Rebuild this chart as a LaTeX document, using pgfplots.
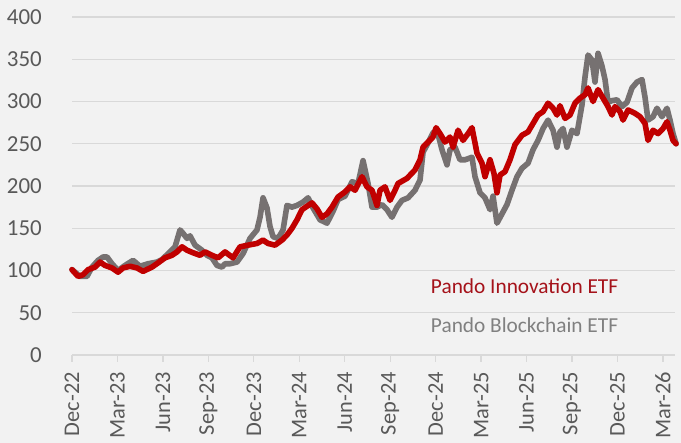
\documentclass[border=0pt]{standalone}
\usepackage{pgfplots}
\pgfplotsset{compat=1.18}
\usepackage{fontspec}
\setmainfont{Carlito}
\definecolor{bgc}{HTML}{F2F2F2}
\definecolor{gridc}{HTML}{D9D9D9}
\definecolor{redline}{HTML}{C00000}
\definecolor{grayline}{HTML}{767171}
\definecolor{redtext}{HTML}{A5121A}
\definecolor{graytext}{HTML}{808080}
\definecolor{ticktext}{HTML}{595959}
\begin{document}
\begin{tikzpicture}[x=1bp,y=1bp]
\fill[bgc] (0,0) rectangle (681,443);
\begin{axis}[
  at={(72bp,88bp)}, anchor=south west,
  scale only axis,
  width=603bp, height=338bp,
  xmin=0, xmax=39.8, ymin=0, ymax=400,
  axis line style={draw=none},
  axis x line*=bottom,
  ytick={0,50,...,400},
  ymajorgrids,
  grid style={gridc, line width=1.3bp},
  xtick={0,3,...,39},
  xticklabels={Dec-22,Mar-23,Jun-23,Sep-23,Dec-23,Mar-24,Jun-24,Sep-24,Dec-24,Mar-25,Jun-25,Sep-25,Dec-25,Mar-26},
  x tick label style={rotate=90, anchor=east, font=\fontsize{22.5}{24}\selectfont, text=ticktext, inner sep=0pt, xshift=0bp},
  y tick label style={font=\fontsize{23}{24}\selectfont, text=ticktext, inner sep=0pt},
  xticklabel shift=10bp,
  yticklabel shift=23bp,
  major tick length=7bp,
  tick align=outside,
  x tick style={gridc, line width=1.3bp},
  ytick style={draw=none},
  /pgf/number format/assume math mode=true,
  clip=false,
]
\addplot[draw=none, forget plot] coordinates {(0,0)};
\draw[gridc, line width=1.3bp] (axis cs:0,0) -- (axis cs:39.8,0);
\addplot[grayline, line width=5.6bp, line join=round, line cap=round] coordinates {
(0,101)(0.53,93)(0.99,93)(1.32,104)(1.72,112)(2.05,116)(2.31,116)(2.64,108)(3.04,100)(3.50,106)
(4.03,112)(4.49,105)(5.02,108)(5.61,110)(5.94,113)(6.47,122)(6.80,128)(7.13,148)(7.33,144)(7.59,138)
(7.79,141)(8.12,130)(8.58,124)(8.91,118)(9.24,115)(9.57,106)(9.90,104)(10.10,108)(10.43,108)(10.89,110)
(11.29,120)(11.75,138)(12.21,148)(12.41,163)(12.61,186)(12.87,174)(13.07,152)(13.27,140)(13.60,138)(13.93,148)
(14.19,177)(14.52,175)(14.85,177)(15.25,181)(15.58,186)(15.91,174)(16.37,160)(16.83,156)(17.23,170)(17.56,184)
(18.02,188)(18.48,205)(18.88,203)(19.21,230)(19.54,203)(19.80,175)(20.13,175)(20.46,178)(20.79,172)(21.12,163)
(21.45,175)(21.78,183)(22.18,186)(22.64,195)(22.97,207)(23.17,240)(23.50,251)(23.83,263)(24.09,266)(24.42,243)
(24.75,225)(24.95,243)(25.28,246)(25.61,231)(25.94,231)(26.40,234)(26.60,211)(26.93,192)(27.26,186)(27.59,172)
(27.79,188)(28.05,156)(28.38,167)(28.71,178)(29.04,195)(29.37,211)(29.70,221)(30.10,227)(30.43,243)(30.76,254)
(31.09,268)(31.42,278)(31.75,266)(32.01,246)(32.21,264)(32.41,268)(32.67,246)(33.00,266)(33.33,262)(33.66,296)
(33.86,329)(34.06,355)(34.32,349)(34.52,323)(34.72,357)(34.98,342)(35.18,326)(35.38,299)(35.64,301)(35.97,302)
(36.30,294)(36.63,299)(36.96,316)(37.29,323)(37.62,326)(37.82,305)(38.02,278)(38.35,282)(38.61,292)(38.94,282)
(39.27,292)(39.47,278)(39.67,262)(39.87,250)
};
\addplot[redline, line width=5.6bp, line join=round, line cap=round] coordinates {
(0,101)(0.40,93)(0.73,95)(1.06,101)(1.52,104)(1.85,110)(2.18,106)(2.64,103)(3.04,98)(3.37,103)
(3.83,105)(4.29,103)(4.69,99)(5.28,104)(5.68,109)(6.14,115)(6.60,118)(6.93,122)(7.26,128)(7.59,124)
(7.99,121)(8.45,118)(8.78,122)(9.24,118)(9.64,115)(10.10,122)(10.63,115)(11.09,128)(11.62,130)(12.21,132)
(12.61,136)(12.94,132)(13.40,130)(13.86,136)(14.19,142)(14.52,150)(14.85,160)(15.18,172)(15.51,176)(15.84,180)
(16.17,173)(16.50,163)(16.83,167)(17.16,175)(17.56,187)(18.02,193)(18.35,199)(18.68,195)(19.14,211)(19.47,199)
(19.80,195)(20.13,177)(20.33,195)(20.66,199)(20.99,183)(21.32,195)(21.52,203)(22.11,209)(22.64,219)(22.97,231)
(23.17,246)(23.50,252)(23.83,258)(24.03,269)(24.29,262)(24.62,252)(24.95,258)(25.15,246)(25.48,266)(25.81,254)
(26.14,262)(26.40,269)(26.73,239)(27.06,227)(27.26,211)(27.59,231)(27.85,215)(28.05,192)(28.25,213)(28.58,217)
(28.91,231)(29.24,249)(29.70,260)(30.10,264)(30.43,274)(30.76,284)(31.09,288)(31.42,298)(31.75,292)(32.01,284)
(32.21,295)(32.54,280)(32.87,284)(33.20,298)(33.53,304)(33.86,308)(34.06,316)(34.39,300)(34.72,314)(35.05,304)
(35.38,294)(35.64,284)(35.84,294)(36.17,288)(36.37,278)(36.70,290)(37.16,286)(37.49,282)(37.82,274)(38.02,254)
(38.35,266)(38.68,262)(39.01,268)(39.27,276)(39.47,266)(39.67,254)(39.87,250)
};
\node[anchor=base west, text=redtext, inner sep=0pt, font=\fontsize{21.4}{24}\selectfont] at (rel axis cs:0.595,0.1805) {Pando Innovation ETF};
\node[anchor=base west, text=graytext, inner sep=0pt, font=\fontsize{21.4}{24}\selectfont] at (rel axis cs:0.595,0.068) {Pando Blockchain ETF};
\end{axis}
\pgfresetboundingbox
\path[use as bounding box] (0,0) rectangle (681,443);
\end{tikzpicture}
\end{document}
